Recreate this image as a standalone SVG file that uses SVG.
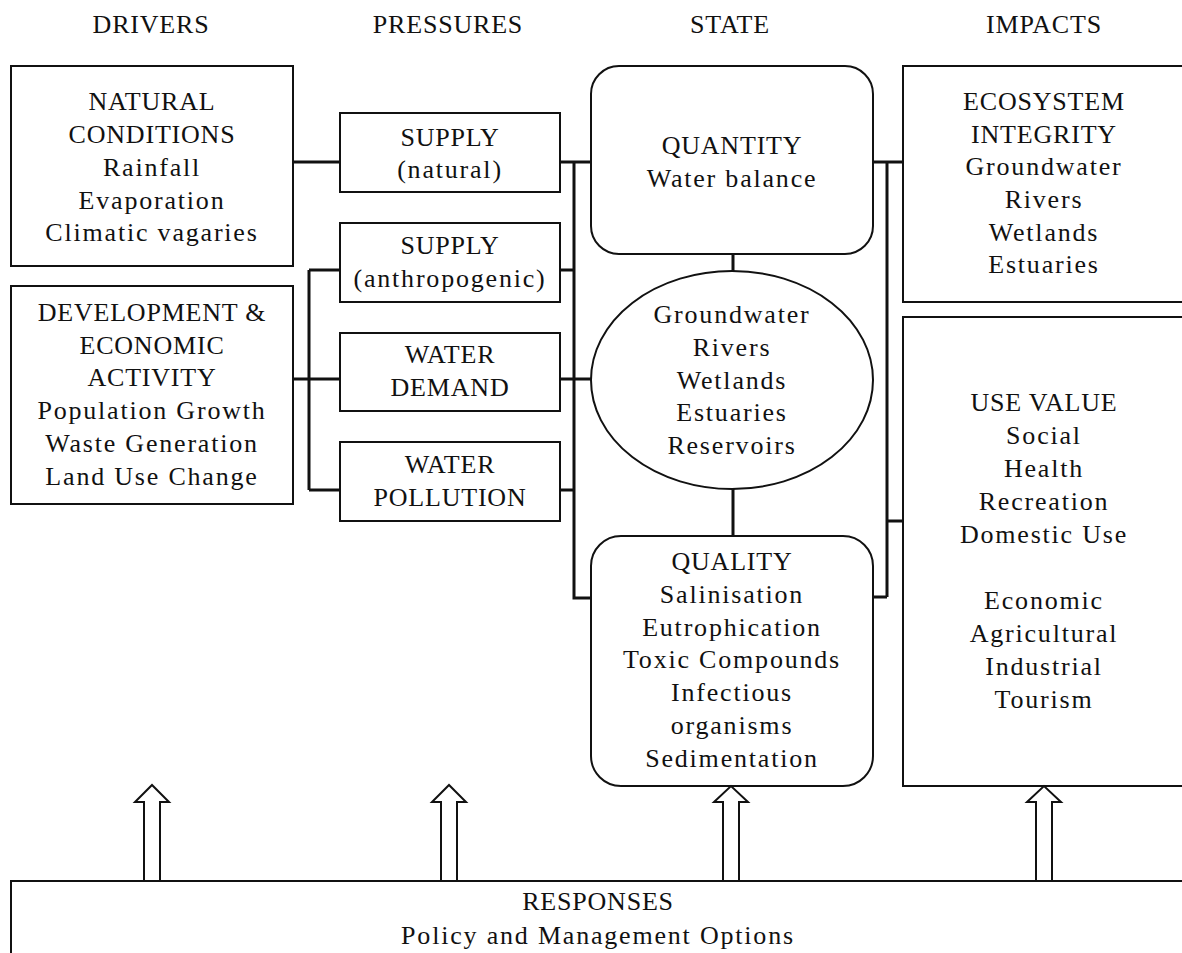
<svg xmlns="http://www.w3.org/2000/svg" width="1182" height="953" viewBox="0 0 1182 953">
<style>
text{font-family:"Liberation Serif","Times New Roman",serif;font-size:26px;fill:#111;text-anchor:middle;letter-spacing:1.8px}
text.uc{letter-spacing:0.8px}
.box{fill:#fff;stroke:#111;stroke-width:2}
.con{fill:none;stroke:#111;stroke-width:3}
.arr{fill:#fff;stroke:#111;stroke-width:2;stroke-linejoin:miter}
</style>
<rect width="1182" height="953" fill="#fff"/>
<g id="headers">
<text class="uc" x="151" y="33">DRIVERS</text>
<text class="uc" x="448" y="33">PRESSURES</text>
<text class="uc" x="730" y="33">STATE</text>
<text class="uc" x="1044" y="33">IMPACTS</text>
</g>
<g id="connectors">
<path class="con" d="M293 162H340M560 162H591M293 379H340M309 270V490M309 270H340M309 490H340M574 162V598H591M560 270H574M560 379H591M560 490H574M873 162H903M887 162V597M873 597H887M887 521H903M733 254V271M733 489V536"/>
</g>
<g id="natural">
<rect class="box" x="11" y="66" width="282" height="200"/>
<text class="uc" x="152" y="110">NATURAL</text>
<text class="uc" x="152" y="143">CONDITIONS</text>
<text x="152" y="176">Rainfall</text>
<text x="152" y="209">Evaporation</text>
<text x="152" y="241">Climatic vagaries</text>
</g>
<g id="development">
<rect class="box" x="11" y="286" width="282" height="218"/>
<text class="uc" x="152" y="321">DEVELOPMENT &amp;</text>
<text class="uc" x="152" y="354">ECONOMIC</text>
<text class="uc" x="152" y="386">ACTIVITY</text>
<text x="152" y="419">Population Growth</text>
<text x="152" y="452">Waste Generation</text>
<text x="152" y="485">Land Use Change</text>
</g>
<g id="supply-natural">
<rect class="box" x="340" y="113" width="220" height="79"/>
<text class="uc" x="450" y="146">SUPPLY</text>
<text x="450" y="178">(natural)</text>
</g>
<g id="supply-anthropogenic">
<rect class="box" x="340" y="223" width="220" height="79"/>
<text class="uc" x="450" y="254">SUPPLY</text>
<text x="450" y="287">(anthropogenic)</text>
</g>
<g id="water-demand">
<rect class="box" x="340" y="333" width="220" height="78"/>
<text class="uc" x="450" y="363">WATER</text>
<text class="uc" x="450" y="396">DEMAND</text>
</g>
<g id="water-pollution">
<rect class="box" x="340" y="442" width="220" height="79"/>
<text class="uc" x="450" y="473">WATER</text>
<text class="uc" x="450" y="506">POLLUTION</text>
</g>
<g id="quantity">
<rect class="box" x="591" y="66" width="282" height="188" rx="28" ry="28"/>
<text class="uc" x="732" y="154">QUANTITY</text>
<text x="732" y="187">Water balance</text>
</g>
<g id="water-bodies">
<ellipse class="box" cx="732" cy="380" rx="141" ry="109"/>
<text x="732" y="323">Groundwater</text>
<text x="732" y="356">Rivers</text>
<text x="732" y="389">Wetlands</text>
<text x="732" y="421">Estuaries</text>
<text x="732" y="454">Reservoirs</text>
</g>
<g id="quality">
<rect class="box" x="591" y="536" width="282" height="250" rx="30" ry="30"/>
<text class="uc" x="732" y="570">QUALITY</text>
<text x="732" y="603">Salinisation</text>
<text x="732" y="636">Eutrophication</text>
<text x="732" y="668">Toxic Compounds</text>
<text x="732" y="701">Infectious</text>
<text x="732" y="734">organisms</text>
<text x="732" y="767">Sedimentation</text>
</g>
<g id="ecosystem-integrity">
<rect class="box" x="903" y="66" width="300" height="236"/>
<text class="uc" x="1044" y="110">ECOSYSTEM</text>
<text class="uc" x="1044" y="143">INTEGRITY</text>
<text x="1044" y="175">Groundwater</text>
<text x="1044" y="208">Rivers</text>
<text x="1044" y="241">Wetlands</text>
<text x="1044" y="273">Estuaries</text>
</g>
<g id="use-value">
<rect class="box" x="903" y="317" width="300" height="469"/>
<text class="uc" x="1044" y="411">USE VALUE</text>
<text x="1044" y="444">Social</text>
<text x="1044" y="477">Health</text>
<text x="1044" y="510">Recreation</text>
<text x="1044" y="543">Domestic Use</text>
<text x="1044" y="609">Economic</text>
<text x="1044" y="642">Agricultural</text>
<text x="1044" y="675">Industrial</text>
<text x="1044" y="708">Tourism</text>
</g>
<g id="responses">
<rect class="box" x="11" y="881" width="1200" height="100"/>
<text class="uc" x="598" y="910">RESPONSES</text>
<text x="598" y="944">Policy and Management Options</text>
</g>
<g id="arrows">
<path class="arr" d="M144 881V802H135L152 785L169 802H160V881Z"/>
<path class="arr" d="M441 881V802H432L449 785L466 802H457V881Z"/>
<path class="arr" d="M723 881V802H714L731 786L748 802H739V881Z"/>
<path class="arr" d="M1036 881V802H1027L1044 786L1061 802H1052V881Z"/>
</g>
</svg>
